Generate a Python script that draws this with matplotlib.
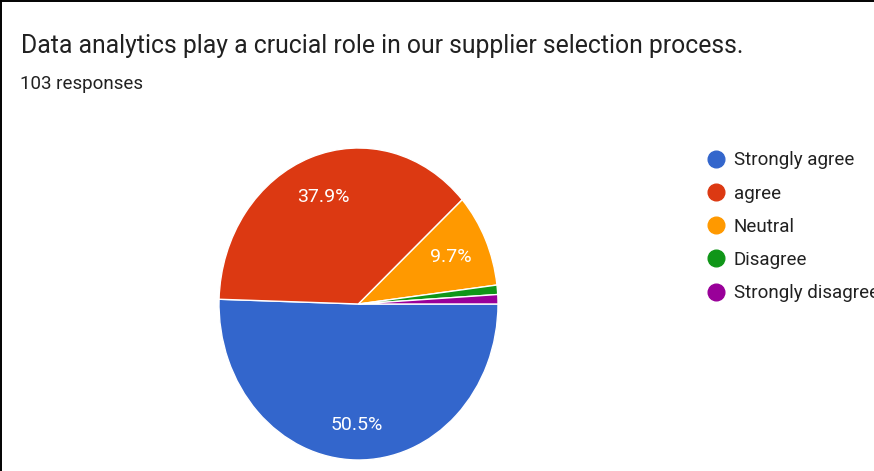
import matplotlib.pyplot as plt
from matplotlib.lines import Line2D

plt.rcParams['font.family'] = ['Roboto', 'DejaVu Sans']

# Survey answers (103 responses)
labels = ["Strongly agree", "agree", "Neutral", "Disagree", "Strongly disagree"]
counts = [52, 39, 10, 1, 1]
colors = ["#3366CC", "#DC3912", "#FF9900", "#109618", "#990099"]

title = "Data analytics play a crucial role in our supplier selection process."
subtitle = "103 responses"

W, H = 874, 471
fig = plt.figure(figsize=(W / 100, H / 100), dpi=100)

# pie box in pixels (left, top, right, bottom) -- the circle is a bit taller than wide
px_l, px_t, px_r, px_b = 219, 148, 498, 460
ax = fig.add_axes([px_l / W, 1 - px_b / H, (px_r - px_l) / W, (px_b - px_t) / H])


def pct_label(p):
    return f"{p:.1f}%" if p > 5 else ""


wedges, _, autotexts = ax.pie(
    counts, colors=colors, startangle=0, counterclock=False,
    autopct=pct_label, pctdistance=0.73,
    wedgeprops=dict(edgecolor="white", linewidth=1.0),
    textprops=dict(color="white", fontsize=14),
)
ax.set_aspect("auto")
ax.set_xlim(-1, 1)
ax.set_ylim(-1, 1)
ax.axis("off")

# the big slice's label sits a little further out
x, y = autotexts[0].get_position()
autotexts[0].set_position((x * 1.06, y * 1.06))

fig.text(21 / W, 1 - 53 / H, title, fontsize=17.8, color="#212121", ha="left", va="baseline")
fig.text(20 / W, 1 - 89 / H, subtitle, fontsize=13.5, color="#212121", ha="left", va="baseline")

# legend runs past the right edge, so the last label gets clipped
handles = [Line2D([], [], linestyle="none", marker="o", markersize=12,
                  markerfacecolor=c, markeredgecolor=c) for c in colors]
fig.legend(handles, labels, loc="upper left", bbox_to_anchor=(697 / W, 1 - 142 / H),
           frameon=False, fontsize=13.5, labelcolor="#212121",
           handlelength=1.0, handletextpad=0.45, labelspacing=0.81, borderpad=0)

# frame lines on the left and top edges
fig.add_artist(Line2D([1 / W, 1 / W], [0, 1 - 1 / H], color="black", linewidth=1.4))
fig.add_artist(Line2D([1 / W, 1], [1 - 1 / H, 1 - 1 / H], color="black", linewidth=1.4))

fig.savefig("out.png", dpi=100)
